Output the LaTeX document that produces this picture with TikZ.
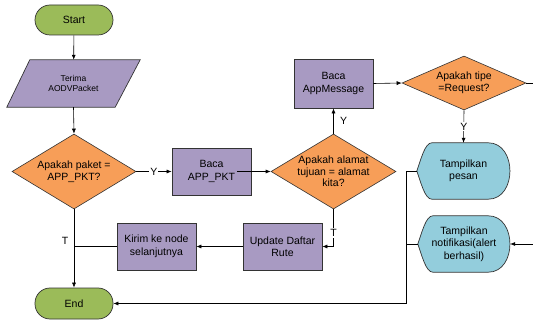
\documentclass[tikz,border=0pt]{standalone}
\usepackage{fontspec}
\setmainfont{Liberation Sans}
\usetikzlibrary{shapes.geometric,arrows.meta,backgrounds,calc}
\definecolor{termgreen}{HTML}{9BBB59}
\definecolor{procpurple}{HTML}{A89AC2}
\definecolor{decorange}{HTML}{F79E58}
\definecolor{dispblue}{HTML}{93CDDC}
\begin{document}
\begin{tikzpicture}[x=1pt,y=-1pt,
  font=\fontsize{10.5}{12.5}\selectfont,
  every node/.style={align=center},
  term/.style={draw=black!80,fill=termgreen,rounded corners=15pt,minimum width=78pt,minimum height=30pt,inner sep=0pt,line width=0.7pt},
  proc/.style={draw=black!80,fill=procpurple,minimum width=79pt,minimum height=47pt,inner sep=0pt,line width=0.7pt},
  dec/.style={diamond,draw=black!80,fill=decorange,inner sep=0pt,line width=0.6pt},
  ghost/.style={inner sep=0pt},
  dispshape/.style={draw=black!80,fill=dispblue,line width=0.7pt},
  para/.style={draw=black!80,fill=procpurple,line width=0.7pt},
  arr/.style={-{Latex[length=5pt,width=4pt]},line width=0.6pt},
  ln/.style={line width=0.6pt},
  lab/.style={fill=white,inner sep=1pt}
]
\useasboundingbox (0,0) rectangle (533,323);

% terminators
\node[term] (start) at (74,20) {Start};
\node[term,minimum height=31pt] (end) at (74,303.5) {End};

% input parallelogram
\node[ghost,minimum width=133pt,minimum height=47pt,font=\fontsize{8.5}{10.5}\selectfont] (recv) at (73.5,83.5) {Terima\\AODVPacket};
\begin{pgfonlayer}{background}
\draw[para] (recv.south west) -- ([xshift=-25pt]recv.south east) -- (recv.north east) -- ([xshift=23pt]recv.north west) -- cycle;
\end{pgfonlayer}

% decisions
\node[dec,minimum width=124pt,minimum height=75pt,label={[align=center]center:Apakah paket =\\APP\_PKT?}] (d1) at (74,171.5) {};
\node[dec,minimum width=125pt,minimum height=75pt,label={[align=center,font=\fontsize{10.5}{11.5}\selectfont]center:Apakah alamat\\tujuan = alamat\\kita?}] (d2) at (333.5,171.5) {};
\node[dec,minimum width=124pt,minimum height=54pt,label={[align=center]center:Apakah tipe\\=Request?}] (d3) at (464,83) {};

% processes
\node[proc] (app) at (211.5,171.5) {Baca\\APP\_PKT};
\node[proc,minimum height=49pt] (msg) at (333.5,83.5) {Baca\\AppMessage};
\node[proc] (upd) at (282.5,246.5) {Update Daftar\\Rute};
\node[proc] (kirim) at (156.5,246.5) {Kirim ke node\\selanjutnya};

% display shapes
\node[ghost,minimum width=93pt,minimum height=56pt] (tp) at (463.5,171) {Tampilkan\\pesan};
\node[ghost,minimum width=92pt,minimum height=56pt] (tn) at (464,244) {Tampilkan\\notifikasi(alert\\berhasil)};
\begin{pgfonlayer}{background}
\foreach \n in {tp,tn}{
\draw[dispshape] (\n.west) .. controls ([xshift=4pt,yshift=11pt]\n.west) and ([xshift=8pt]\n.north west) .. ([xshift=15pt]\n.north west)
  -- ([xshift=-22pt]\n.north east) .. controls ([xshift=7pt]\n.north east) and ([xshift=7pt]\n.south east) .. ([xshift=-22pt]\n.south east)
  -- ([xshift=15pt]\n.south west) .. controls ([xshift=8pt]\n.south west) and ([xshift=4pt,yshift=-11pt]\n.west) .. cycle;
}
\end{pgfonlayer}

% free ends
\coordinate (outR) at (533,83);
\coordinate (inR) at (533,244);

% connectors
\draw[arr] (start) -- (recv);
\draw[arr] (recv.south) -- (d1.north);
\draw[arr] (d1.east) -- node[lab] {Y} (app.west);
\draw[arr] ([xshift=-14pt]app.east) -- (d2.west);
\draw[arr] (d2.north) -- node[right,xshift=3pt] {Y} (msg.south);
\draw[arr] (msg.east) -- (d3.west);
\draw[ln] (d3.east) -- (outR);
\draw[arr] (d3.south) -- node[lab] {Y} (tp.north);
\draw[arr] (tp.west) -- ++(-11,0) |- (end.east);
\draw[ln] (tn.west) -- ++(-12,0);
\draw[arr] (inR) -- (tn.east);
\draw[arr] (d2.south) |- node[lab,pos=0.32] {T} (upd.east);
\draw[arr] (upd.west) -- (kirim.east);
\draw[ln] (kirim.west) -- (kirim.west -| d1.south);
\draw[arr] (d1.south) -- node[left,pos=0.4,xshift=-2pt] {T} (end.north);
\end{tikzpicture}
\end{document}
